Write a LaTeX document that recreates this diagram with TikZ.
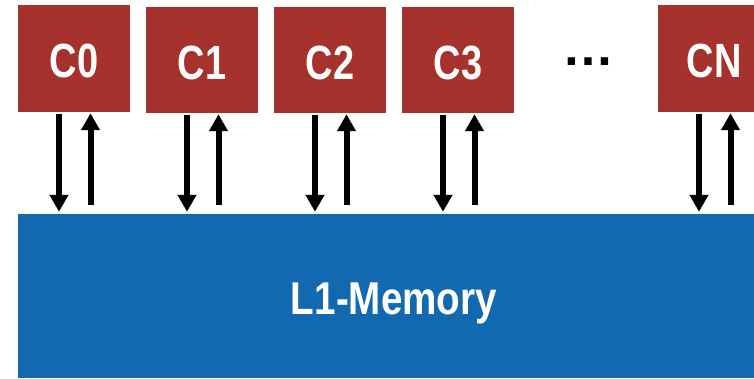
\documentclass[tikz,border=0pt]{standalone}
\usepackage{fontspec}
\setmainfont{Liberation Sans}
\usetikzlibrary{arrows.meta}
\definecolor{corered}{RGB}{165,50,45}
\definecolor{memblue}{RGB}{19,105,175}
\newcommand\narrowtext[2][0.82]{\scalebox{#1}[1]{#2}}

\begin{document}
\begin{tikzpicture}[x=1pt,y=-1pt,
  core/.style={fill=corered, draw=none, minimum width=112pt, minimum height=106pt,
    inner sep=0pt, text=white, text height=38pt, text depth=0pt,
    font=\fontsize{48}{50}\selectfont\bfseries},
  memory/.style={fill=memblue, draw=none, minimum width=752pt, minimum height=164pt,
    inner sep=0pt, text=white, text height=36pt, text depth=0pt,
    font=\fontsize{46}{50}\selectfont\bfseries},
  link/.style={line width=6pt, -{Triangle[width=18pt,length=17pt]}}
]
\useasboundingbox (0,0) rectangle (754,378);
\clip (0,0) rectangle (754,378);

% processing cores
\node[core, minimum height=107pt] (c0) at (74,58.5) {\narrowtext[0.79]{C0}};
\node[core] (c1) at (202,60) {\narrowtext[0.79]{C1}};
\node[core] (c2) at (330,60) {\narrowtext[0.79]{C2}};
\node[core] (c3) at (458,60) {\narrowtext[0.79]{C3}};
\node[core, minimum height=107pt] (cN) at (714,58.5) {\narrowtext[0.79]{CN}};
\node[font=\fontsize{52}{56}\selectfont\bfseries, anchor=base, inner sep=0pt] (dots) at (588,65) {…};

% shared memory
\node[memory] (mem) at (394,296) {\narrowtext[0.84]{L1-Memory}};

% request / response links
\foreach \c in {c0,c1,c2,c3,cN} {
  \draw[link] ([xshift=-15pt,yshift=-2pt]\c.south) -- ([xshift=-15pt,yshift=2pt]\c.south |- mem.north);
  \draw[link] ([xshift=16.5pt,yshift=9pt]\c.south |- mem.north) -- ([xshift=16.5pt,yshift=-1pt]\c.south);
}
\end{tikzpicture}
\end{document}
